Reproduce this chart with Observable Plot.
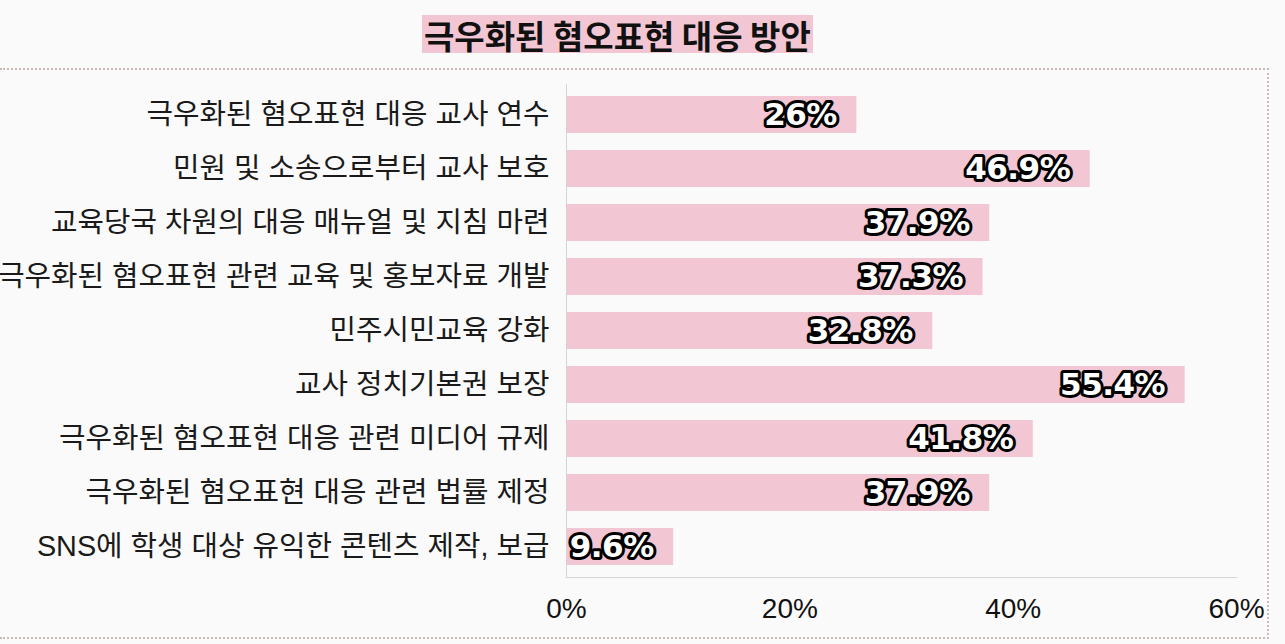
<!DOCTYPE html>
<html>
<head>
<meta charset="utf-8">
<script src="https://cdn.jsdelivr.net/npm/d3@7"></script>
<script src="https://cdn.jsdelivr.net/npm/@observablehq/plot@0.6"></script>
<style>
  html, body { margin: 0; padding: 0; background: #fafafa; width: 1285px; height: 644px; overflow: hidden; }
  #title {
    position: absolute; left: 422px; top: 15px; height: 38px; line-height: 40px;
    padding: 0 2px; background: #f2c6d3; color: #111;
    font-family: "Noto Sans CJK KR", sans-serif; font-weight: 700; font-size: 33px;
    white-space: nowrap;
  }
  #frame {
    position: absolute; left: 0; top: 68px; width: 1267px; height: 567px;
    border-top: 2px dotted #cbbab3; border-right: 2px dotted #cbbab3; border-bottom: 2px dotted #cbbab3;
  }
  #frame svg { display: block; }
</style>
</head>
<body>
<div id="title">극우화된 혐오표현 대응 방안</div>
<div id="frame"></div>
<script>
const categories = [
  "극우화된 혐오표현 대응 교사 연수",
  "민원 및 소송으로부터 교사 보호",
  "교육당국 차원의 대응 매뉴얼 및 지침 마련",
  "극우화된 혐오표현 관련 교육 및 홍보자료 개발",
  "민주시민교육 강화",
  "교사 정치기본권 보장",
  "극우화된 혐오표현 대응 관련 미디어 규제",
  "극우화된 혐오표현 대응 관련 법률 제정",
  "SNS에 학생 대상 유익한 콘텐츠 제작, 보급"
];
const values = [26, 46.9, 37.9, 37.3, 32.8, 55.4, 41.8, 37.9, 9.6];
const xTicks = [0, 20, 40, 60];

const data = categories.map((c, i) => ({category: c, value: values[i]}));

const chart = Plot.plot({
  width: 1267,
  height: 567,
  marginLeft: 566,
  marginRight: 31,
  marginTop: 14,
  marginBottom: 60,
  style: {background: "transparent", fontFamily: "'Liberation Sans', 'Noto Sans CJK KR', sans-serif", fontSize: "28px", color: "#111", overflow: "visible"},
  x: {domain: [0, 60]},
  y: {domain: categories, paddingInner: 0.315, paddingOuter: 0.165},
  marks: [
    Plot.barX(data, {x: "value", y: "category", fill: "#f2c6d3"}),
    Plot.frame({anchor: "left", stroke: "#d4d4d4"}),
    Plot.frame({anchor: "bottom", stroke: "#d4d4d4"}),
    Plot.axisX({ticks: xTicks, tickSize: 0, tickPadding: 21, tickFormat: d => d + "%", label: null, fontSize: 28}),
    Plot.axisY({tickSize: 0, tickPadding: 17, label: null, fontSize: 28.8, fill: "#1a1a1a"}),
    Plot.text(data, {
      x: "value", y: "category", text: d => d.value + "%",
      textAnchor: "end", dx: -20, fill: "white", stroke: "black", strokeWidth: 6,
      fontSize: 31, fontWeight: "bold", fontFamily: "DejaVu Sans"
    })
  ]
});
document.getElementById("frame").appendChild(chart);
d3.select(chart).selectAll('g[aria-label="text"] text').attr("letter-spacing", "-0.5");
</script>
</body>
</html>
